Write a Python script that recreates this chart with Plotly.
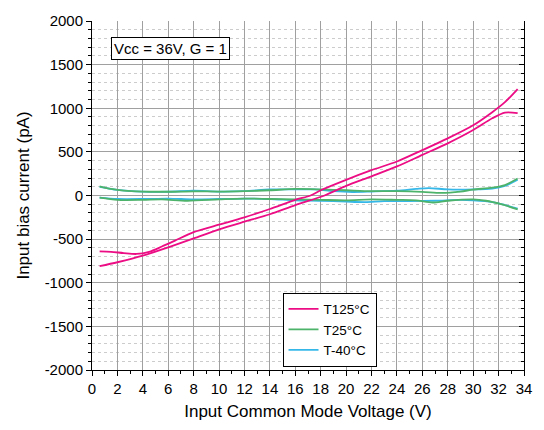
import plotly.graph_objects as go

# ---- data ----
t125_a_x = [0.6, 1.5, 2.5, 3.5, 4.5, 5.5, 6.5, 8, 10, 12, 14, 16, 17.2, 18, 20, 22, 24, 26, 28, 30, 31.5, 32.5, 33.5]
t125_a_y = [-640, -645, -660, -670, -645, -585, -520, -420, -335, -250, -155, -50, 0, 60, 180, 290, 390, 520, 655, 805, 955, 1070, 1220]
t125_b_x = [0.6, 2, 4, 6, 8, 10, 12, 14, 16, 18.3, 20, 22, 24, 26, 28, 30, 31.5, 32.5, 33.5]
t125_b_y = [-810, -765, -690, -594, -492, -388, -300, -215, -110, 0, 110, 220, 333, 466, 598, 750, 885, 950, 945]

t25_a_x = [0.6, 1.5, 2.5, 4, 6, 8, 10, 12, 14, 16, 18, 20, 22, 24, 26, 27.5, 29, 30, 31.5, 32.5, 33.5]
t25_a_y = [105, 75, 55, 45, 43, 48, 45, 50, 60, 75, 70, 60, 50, 50, 42, 30, 45, 68, 90, 120, 195]
t25_b_x = [0.6, 2, 4, 5.5, 7.5, 10, 12, 14, 16, 18, 20, 22, 24, 25.5, 26.8, 28, 30, 31, 32.2, 33.5]
t25_b_y = [-25, -50, -50, -45, -60, -45, -35, -40, -45, -50, -55, -45, -50, -55, -80, -60, -45, -60, -100, -160]

tm40_a_x = [0.6, 2, 4, 6, 8, 10, 12, 14, 16, 17.5, 19, 20.5, 22, 24, 25.5, 26.5, 28, 30, 31.5, 32.5, 33.5]
tm40_a_y = [100, 65, 45, 43, 55, 45, 50, 70, 70, 70, 50, 40, 45, 55, 75, 85, 70, 70, 80, 110, 180]
tm40_b_x = [0.6, 2, 4, 6, 8, 10, 12, 14, 16, 18, 20, 21.5, 23, 25, 27, 29, 30, 31.5, 32.5, 33.5]
tm40_b_y = [-25, -40, -40, -35, -45, -40, -35, -40, -55, -60, -70, -75, -65, -64, -60, -50, -55, -75, -110, -150]

series_names = ["T125°C", "T25°C", "T-40°C"]
colors = ["#EC0C84", "#4DB36B", "#35B8E8"]

y_ticks = [-2000, -1500, -1000, -500, 0, 500, 1000, 1500, 2000]
y_ticktext = [str(v) for v in y_ticks]
x_ticks = list(range(0, 35, 2))

fig = go.Figure()

def add(x, y, name, color, show):
    fig.add_trace(go.Scatter(x=x, y=y, mode="lines", name=name, legendgroup=name,
                             showlegend=show, line=dict(color=color, width=1.8, shape="spline", smoothing=0.8)))

# draw blue first, then green, then magenta on top
add(tm40_a_x, tm40_a_y, series_names[2], colors[2], False)
add(tm40_b_x, tm40_b_y, series_names[2], colors[2], False)
add(t25_a_x, t25_a_y, series_names[1], colors[1], False)
add(t25_b_x, t25_b_y, series_names[1], colors[1], False)
add(t125_a_x, t125_a_y, series_names[0], colors[0], False)
add(t125_b_x, t125_b_y, series_names[0], colors[0], False)

# legend entries in order
for n, c in zip(series_names, colors):
    fig.add_trace(go.Scatter(x=[None], y=[None], mode="lines", name=n,
                             line=dict(color=c, width=1.8), showlegend=True))

# right mirror axis with inward ticks
fig.add_trace(go.Scatter(x=[None], y=[None], yaxis="y2", showlegend=False, hoverinfo="skip"))

font_family = "Liberation Sans, Arial, sans-serif"

fig.update_layout(
    width=544, height=430,
    margin=dict(l=92, r=14, t=20, b=58),
    paper_bgcolor="white", plot_bgcolor="white",
    font=dict(family=font_family, size=15, color="black"),
    showlegend=True,
    legend=dict(x=0.441, y=0.222, xanchor="left", yanchor="top",
                bgcolor="white", bordercolor="black", borderwidth=1,
                font=dict(size=13.5), tracegroupgap=0, itemwidth=30),
    xaxis=dict(range=[0, 34], tickvals=x_ticks, ticks="outside", ticklen=5, tickcolor="black",
               showline=True, linecolor="black", linewidth=1,
               showgrid=True, gridcolor="#a0a0a0", gridwidth=1, zeroline=False,
               minor=dict(dtick=1, ticks="outside", ticklen=3, tickcolor="black", showgrid=False),
               title=dict(text="Input Common Mode Voltage (V)", font=dict(size=17), standoff=9)),
    yaxis=dict(range=[-2000, 2000], tickvals=y_ticks, ticktext=y_ticktext,
               ticks="outside", ticklen=5, tickcolor="black",
               showline=True, linecolor="black", linewidth=1,
               showgrid=True, gridcolor="#a0a0a0", gridwidth=1, zeroline=False,
               minor=dict(dtick=100, ticks="outside", ticklen=3, tickcolor="black",
                          showgrid=True, gridcolor="#cccccc", griddash="dot", gridwidth=1),
               title=dict(text="Input bias current (pA)", font=dict(size=17), standoff=10)),
    yaxis2=dict(range=[-2000, 2000], overlaying="y", side="right", tickvals=y_ticks,
                showticklabels=False, ticks="inside", ticklen=5, tickcolor="black",
                showline=True, linecolor="black", linewidth=1, showgrid=False, zeroline=False,
                minor=dict(dtick=100, ticks="inside", ticklen=3, tickcolor="black", showgrid=False)),
    annotations=[dict(x=0.045, y=0.955, xref="paper", yref="paper", xanchor="left", yanchor="top",
                      text="Vcc = 36V, G = 1", showarrow=False, font=dict(size=15),
                      bgcolor="white", bordercolor="black", borderwidth=1, borderpad=2)],
)

fig.write_html("out.html")
